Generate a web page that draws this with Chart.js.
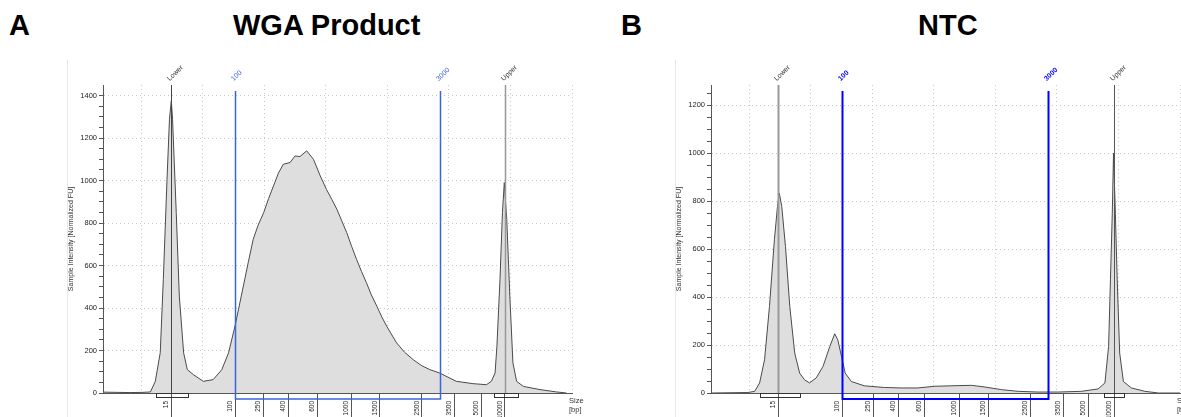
<!DOCTYPE html>
<html>
<head>
<meta charset="utf-8">
<script src="https://cdn.jsdelivr.net/npm/chart.js@4.4.0/dist/chart.umd.min.js"></script>
<style>
  html, body { margin: 0; padding: 0; background: #fff; overflow: hidden; }
  body { width: 1181px; height: 417px; position: relative; font-family: Arial, "Liberation Sans", sans-serif; }
  .panel { position: absolute; top: 0; width: 600px; height: 417px; }
  .title { position: absolute; top: 11px; font-size: 29px; line-height: 29px; font-weight: bold; color: #000; white-space: nowrap; }
</style>
</head>
<body>
<div class="title" style="left:9px">A</div>
<div class="title" style="left:233px">WGA Product</div>
<div class="title" style="left:621px">B</div>
<div class="title" style="left:918px">NTC</div>
<div class="panel" style="left:0px"><canvas id="wga"></canvas></div>
<div class="panel" style="left:608px"><canvas id="ntc"></canvas></div>
<script>
// migration time (s) and fluorescence of each trace
const wgaTime = [13.9, 18.2, 20.3, 21.5, 22.3, 23.1, 23.6, 24.2, 24.6, 24.9, 25.1, 25.7, 26.2, 26.9, 27.5, 28.5, 30.1, 31.7, 33.1, 34.2, 35.3, 36.6, 37.4, 38.2, 39.0, 39.9, 40.7, 41.5, 42.3, 43.1, 44.2, 45.0, 45.8, 46.9, 48.0, 49.1, 50.1, 51.0, 51.8, 52.6, 53.4, 54.2, 55.0, 55.8, 56.6, 57.4, 58.3, 59.1, 59.9, 61.5, 62.8, 64.2, 65.5, 66.9, 68.5, 71.2, 73.9, 76.1, 76.9, 77.5, 77.8, 78.3, 78.7, 79.0, 79.4, 79.9, 80.4, 81.0, 82.1, 84.8, 87.5, 89.1];
const wgaFU = [4, 2, 3, 5, 55, 190, 535, 1006, 1289, 1376, 1289, 850, 456, 189, 110, 86, 55, 63, 110, 189, 322, 503, 615, 723, 790, 849, 915, 975, 1035, 1077, 1085, 1116, 1113, 1140, 1100, 1022, 959, 910, 865, 810, 755, 690, 629, 572, 519, 462, 408, 358, 314, 236, 192, 157, 130, 110, 94, 55, 44, 39, 55, 94, 220, 535, 849, 991, 818, 456, 142, 55, 31, 16, 5, 0];

const ntcTime = [13.9, 19.8, 20.9, 21.7, 22.5, 23.3, 24.1, 24.6, 24.9, 25.3, 25.9, 26.6, 27.4, 28.2, 29.0, 29.8, 30.9, 32.0, 33.1, 33.9, 34.4, 35.0, 35.6, 36.6, 38.7, 42.0, 44.7, 47.4, 50.1, 52.8, 56.1, 58.3, 61.0, 63.7, 66.9, 70.2, 74.0, 76.7, 77.8, 78.4, 78.7, 79.0, 79.2, 79.5, 79.8, 80.2, 80.8, 82.1, 84.3, 86.5, 90];
const ntcFU = [0, 2, 7, 42, 139, 361, 639, 778, 833, 778, 611, 361, 167, 83, 55, 42, 63, 111, 194, 247, 222, 153, 83, 48, 30, 23, 21, 21, 28, 30, 32, 25, 14, 7, 4, 4, 7, 17, 42, 194, 472, 750, 1000, 750, 472, 167, 48, 21, 7, 0, 0];

// ladder sizes (bp) and where they fall on each time axis
const ladderLabels = ['15', '100', '250', '400', '600', '1000', '1500', '2500', '3500', '5000', '10000'];
const wgaLadderTime = [24.9, 35.3, 39.9, 43.9, 48.6, 54.1, 58.8, 65.6, 70.9, 75.3, 79.1];
const ntcLadderTime = [24.7, 35.1, 40.2, 44.2, 48.5, 54.1, 58.9, 65.7, 71.1, 75.1, 79.3];

// markers and region limits
const markerLabels = ['Lower', '100', '3000', 'Upper'];
const wgaMarkerTime = [24.9, 35.3, 68.5, 79.1];
const ntcMarkerTime = [24.7, 35.1, 68.6, 79.2];

// integrated marker peaks (from / to)
const wgaPeakFrom = [22.4, 77.3];
const wgaPeakTo = [27.6, 81.2];
const ntcPeakFrom = [21.7, 77.6];
const ntcPeakTo = [28.2, 80.9];

const gridTimes = [20, 30, 40, 50, 60, 70, 80, 90];

const FONT = 'Arial, "Liberation Sans", sans-serif';

const decor = {
  id: 'decor',
  afterDraw(chart, args, o) {
    const {ctx, chartArea: a} = chart;
    const x = chart.scales.x;
    ctx.save();
    // faint panel frame
    ctx.strokeStyle = '#e8e8e8';
    ctx.lineWidth = 1;
    ctx.beginPath();
    ctx.moveTo(67.5, 60);
    ctx.lineTo(67.5, chart.height);
    ctx.stroke();

    // integration boxes under the markers
    ctx.strokeStyle = '#333';
    o.peakFrom.forEach((t, i) => {
      const x1 = Math.round(x.getPixelForValue(t)) + 0.5;
      const x2 = Math.round(x.getPixelForValue(o.peakTo[i])) + 0.5;
      ctx.strokeRect(x1, a.bottom + 0.5, x2 - x1, 4);
    });

    // marker lines and region bracket
    const px = o.markerTime.map(t => Math.round(x.getPixelForValue(t)) + 0.5);
    ctx.strokeStyle = o.blue;
    ctx.lineWidth = o.blueWidth;
    ctx.beginPath();
    ctx.moveTo(px[1], a.top + 6);
    ctx.lineTo(px[1], a.bottom + 6);
    ctx.lineTo(px[2], a.bottom + 6);
    ctx.lineTo(px[2], a.top + 6);
    ctx.stroke();
    [0, 3].forEach(i => {
      ctx.strokeStyle = o.markColor[i === 0 ? 0 : 1];
      ctx.lineWidth = o.markWidth[i === 0 ? 0 : 1];
      ctx.beginPath();
      ctx.moveTo(px[i], a.top);
      ctx.lineTo(px[i], a.bottom);
      ctx.stroke();
    });

    // marker labels
    markerLabels.forEach((lab, i) => {
      const blue = i === 1 || i === 2;
      ctx.save();
      ctx.translate(px[i] - 3, a.top - 5);
      ctx.rotate(-Math.PI / 4);
      ctx.font = (blue && o.blueBold ? 'bold ' : '') + '7px ' + FONT;
      ctx.fillStyle = blue ? o.blue : '#333';
      ctx.textAlign = 'left';
      ctx.textBaseline = 'middle';
      ctx.fillText(lab, 0, 0);
      ctx.restore();
    });

    // axis unit
    ctx.font = '7.5px ' + FONT;
    ctx.fillStyle = '#333';
    ctx.textAlign = 'left';
    ctx.textBaseline = 'middle';
    ctx.fillText('Size', a.right - 3, a.bottom + 8);
    ctx.fillText('[bp]', a.right - 3, a.bottom + 17);
    ctx.restore();
  }
};

function makeChart(id, times, fu, ladderTime, yMax, yTop, deco) {
  const yTicks = [];
  for (let v = 0; v <= yTop; v += 50) yTicks.push(v);
  new Chart(document.getElementById(id), {
    type: 'line',
    data: {
      datasets: [{
        data: times.map((t, i) => ({x: t, y: fu[i]})),
        borderColor: '#4a4a4a',
        borderWidth: 1,
        backgroundColor: '#dedede',
        fill: 'origin',
        pointRadius: 0,
        tension: 0
      }]
    },
    options: {
      responsive: true,
      maintainAspectRatio: false,
      animation: false,
      layout: {padding: {left: 64, top: 85, right: 28, bottom: 0}},
      plugins: {legend: {display: false}, tooltip: {enabled: false}, decor: deco},
      scales: {
        x: {
          type: 'linear', min: 13.8, max: 90, position: 'bottom', z: 1,
          afterBuildTicks: s => { s.ticks = gridTimes.map(v => ({value: v})); },
          afterFit: s => { s.height = 0; },
          ticks: {display: false},
          grid: {color: '#c8c8c8', drawTicks: false},
          border: {display: true, color: '#555', width: 1, dash: [1, 3]}
        },
        xl: {
          type: 'linear', min: 13.8, max: 90, position: 'bottom', z: 1,
          afterBuildTicks: s => { s.ticks = ladderTime.map(v => ({value: v})); },
          afterFit: s => { s.height = 24; },
          ticks: {
            autoSkip: false, minRotation: 90, maxRotation: 90, padding: -16, labelOffset: -5,
            font: {size: 6.5, family: FONT}, color: '#222',
            callback: (v, i) => ladderLabels[i]
          },
          grid: {drawOnChartArea: false, tickLength: 24, color: '#555'},
          border: {display: false}
        },
        y: {
          min: 0, max: yMax, z: 1,
          afterBuildTicks: s => { s.ticks = yTicks.map(v => ({value: v})); },
          afterFit: s => { s.width = 39; },
          ticks: {
            font: {size: 7.5, family: FONT}, color: '#222', padding: 2, autoSkip: false,
            callback: v => (v % 200 === 0 ? String(v) : '')
          },
          grid: {
            tickLength: 4, tickColor: '#555',
            color: c => (c.tick && c.tick.value % 200 === 0 && c.tick.value > 0 ? '#c8c8c8' : 'rgba(0,0,0,0)')
          },
          border: {display: true, color: '#555', width: 1, dash: [1, 3]},
          title: {display: true, text: 'Sample Intensity [Normalized FU]', font: {size: 7, family: FONT}, color: '#333', padding: {top: 3, bottom: 0}}
        }
      }
    },
    plugins: [decor]
  });
}

makeChart('wga', wgaTime, wgaFU, wgaLadderTime, 1450, 1400, {
  markerTime: wgaMarkerTime, peakFrom: wgaPeakFrom, peakTo: wgaPeakTo,
  blue: '#3a64dc', blueWidth: 1.5, blueBold: false,
  markColor: ['#444', '#999'], markWidth: [1, 1.5]
});
makeChart('ntc', ntcTime, ntcFU, ntcLadderTime, 1285, 1250, {
  markerTime: ntcMarkerTime, peakFrom: ntcPeakFrom, peakTo: ntcPeakTo,
  blue: '#0000ff', blueWidth: 2, blueBold: true,
  markColor: ['#999', '#555'], markWidth: [2, 1]
});
</script>
</body>
</html>
